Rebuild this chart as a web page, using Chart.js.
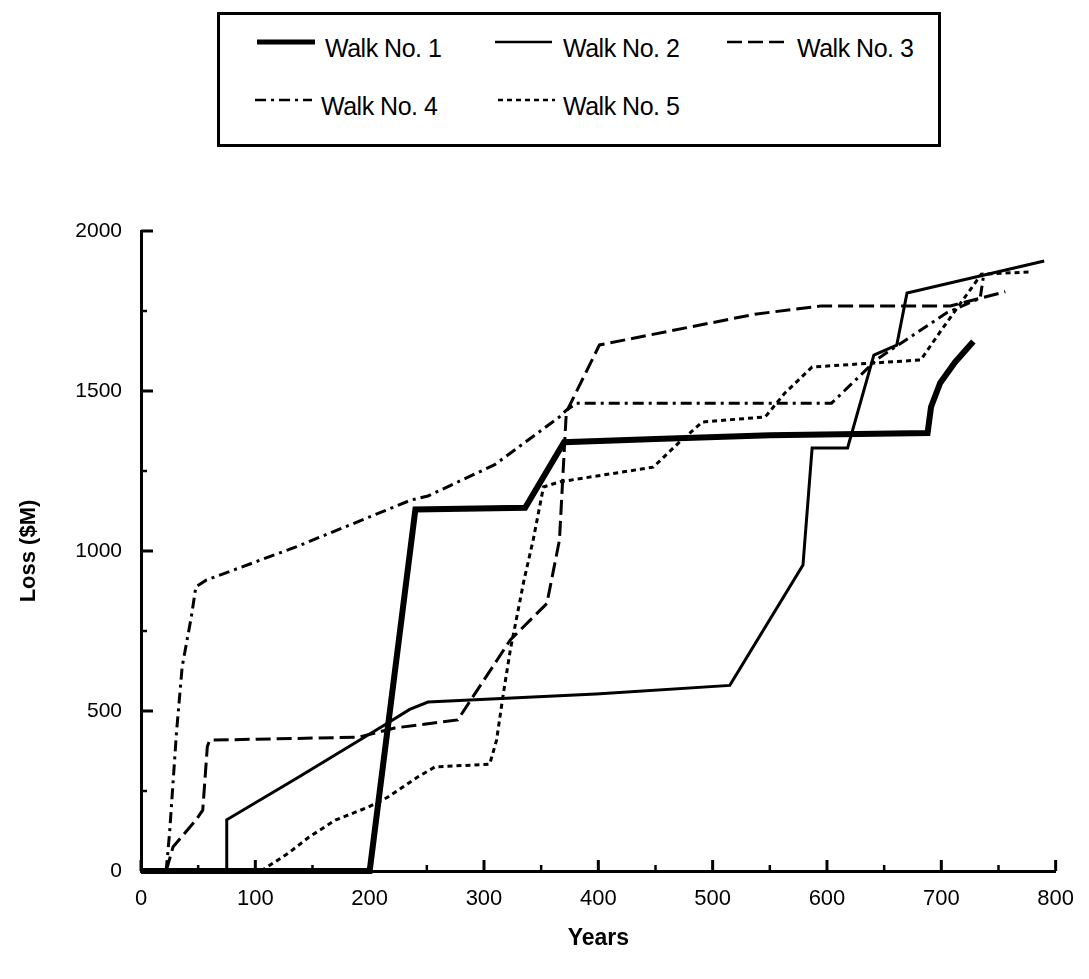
<!DOCTYPE html>
<html>
<head>
<meta charset="utf-8">
<script src="https://cdn.jsdelivr.net/npm/chart.js@4/dist/chart.umd.min.js"></script>
<style>
  html, body { margin: 0; padding: 0; background: #fff; }
  #wrap { position: relative; width: 1089px; height: 979px; }
  #c { position: absolute; left: 0; top: 0; }
  #legend { position: absolute; left: 217px; top: 12px; width: 718px; height: 129px;
            border: 3px solid #000; background: #fff; font-family: "Liberation Sans", Arial, sans-serif; }
  .item { position: absolute; height: 30px; }
  .item svg { position: absolute; left: 0; top: 0; }
  .item span { position: absolute; top: 0; font-size: 25px; line-height: 30px; color: #000; white-space: nowrap; letter-spacing: -0.5px; }
</style>
</head>
<body>
<div id="wrap">
  <canvas id="c" width="1089" height="979"></canvas>
  <div id="legend"></div>
</div>
<script>
// ---- data (years, loss $M) ----
const seriesNames = ["Walk No. 1", "Walk No. 2", "Walk No. 3", "Walk No. 4", "Walk No. 5"];

const walk1Years = [0, 200, 240, 336, 370, 450, 550, 688, 691, 699, 712, 728];
const walk1Loss  = [0, 0, 1130, 1135, 1340, 1350, 1362, 1369, 1450, 1525, 1590, 1655];

const walk2Years = [0, 75, 75, 138, 213, 235, 251, 398, 515, 579, 587, 618, 641, 661, 670, 790];
const walk2Loss  = [0, 0, 160, 294, 456, 505, 528, 553, 580, 956, 1322, 1322, 1612, 1643, 1806, 1906];

const walk3Years = [22, 28, 48, 54, 58, 60, 190, 222, 277, 323, 355, 366, 372, 401, 537, 595, 708, 756];
const walk3Loss  = [0, 75, 159, 190, 388, 409, 418, 447, 472, 722, 836, 1034, 1434, 1644, 1740, 1766, 1766, 1810];

const walk4Years = [22, 25, 31, 36, 44, 48, 57, 135, 236, 251, 309, 366, 372, 381, 604, 644, 665, 705, 734, 737];
const walk4Loss  = [0, 119, 431, 638, 794, 888, 909, 1012, 1159, 1172, 1269, 1419, 1440, 1462, 1462, 1600, 1650, 1745, 1790, 1862];

const walk5Years = [105, 129, 147, 170, 199, 216, 242, 257, 305, 311, 317, 323, 335, 343, 352, 366, 448, 470, 491, 546, 563, 587, 682, 700, 722, 735, 777];
const walk5Loss  = [0, 56, 106, 159, 200, 231, 294, 325, 334, 409, 556, 690, 909, 1034, 1200, 1216, 1262, 1337, 1403, 1419, 1493, 1575, 1597, 1690, 1800, 1865, 1872];

const xTickValues = [0, 100, 200, 300, 400, 500, 600, 700, 800];
const yTickValues = [0, 500, 1000, 1500, 2000];

// ---- styles ----
const styles = [
  { width: 6,   dash: [] },
  { width: 3,   dash: [] },
  { width: 3,   dash: [15, 6] },
  { width: 3,   dash: [11, 5, 3, 5] },
  { width: 3,   dash: [5, 4] }
];

function pts(xs, ys) { return xs.map((x, i) => ({ x: x, y: ys[i] })); }
const allX = [walk1Years, walk2Years, walk3Years, walk4Years, walk5Years];
const allY = [walk1Loss, walk2Loss, walk3Loss, walk4Loss, walk5Loss];

const datasets = seriesNames.map((n, i) => ({
  label: n,
  data: pts(allX[i], allY[i]),
  showLine: true,
  borderColor: '#000',
  backgroundColor: '#000',
  borderWidth: styles[i].width,
  borderDash: styles[i].dash,
  pointRadius: 0,
  tension: 0,
  clip: false,
  borderJoinStyle: 'miter',
  borderCapStyle: 'butt'
}));

// inward tick marks (major + minor) drawn from the scales
const tickPlugin = {
  id: 'inwardTicks',
  afterDraw(chart) {
    const ctx = chart.ctx, xs = chart.scales.x, ys = chart.scales.y, a = chart.chartArea;
    ctx.save();
    ctx.strokeStyle = '#000';
    for (let v = 0; v <= 800; v += 50) {
      const px = xs.getPixelForValue(v);
      const major = v % 100 === 0;
      ctx.lineWidth = major ? 3 : 2.5;
      ctx.beginPath(); ctx.moveTo(px, a.bottom); ctx.lineTo(px, a.bottom - (major ? 11 : 6)); ctx.stroke();
    }
    for (let v = 0; v <= 2000; v += 250) {
      const py = ys.getPixelForValue(v);
      const major = v % 500 === 0;
      ctx.lineWidth = major ? 3 : 2.5;
      ctx.beginPath(); ctx.moveTo(a.left, py); ctx.lineTo(a.left + (major ? 12 : 6), py); ctx.stroke();
    }
    ctx.restore();
  }
};

new Chart(document.getElementById('c'), {
  type: 'scatter',
  data: { datasets },
  plugins: [tickPlugin],
  options: {
    responsive: false,
    animation: false,
    layout: { padding: { left: 12, right: 26, top: 231, bottom: 20 } },
    plugins: { legend: { display: false }, tooltip: { enabled: false } },
    scales: {
      x: {
        type: 'linear', min: 0, max: 800,
        afterFit(s) { s.height = 88; },
        afterBuildTicks(s) { s.ticks = xTickValues.map(v => ({ value: v })); },
        grid: { display: true, drawOnChartArea: false, drawTicks: false },
        border: { display: true, color: '#000', width: 3 },
        ticks: { color: '#000', padding: 15, font: { family: 'Liberation Sans', size: 22 }, maxRotation: 0,
                 callback: v => String(v) },
        title: { display: true, text: 'Years', color: '#000', padding: { top: 4, bottom: 7 },
                 font: { family: 'Liberation Sans', size: 23, weight: 'bold' } }
      },
      y: {
        type: 'linear', min: 0, max: 2000,
        afterFit(s) { s.width = 129; },
        afterBuildTicks(s) { s.ticks = yTickValues.map(v => ({ value: v })); },
        grid: { display: true, drawOnChartArea: false, drawTicks: false },
        border: { display: true, color: '#000', width: 3 },
        ticks: { color: '#000', padding: 19, font: { family: 'Liberation Sans', size: 21 },
                 callback: v => String(v) },
        title: { display: true, text: 'Loss ($M)', color: '#000', padding: { top: 4, bottom: 4 },
                 font: { family: 'Liberation Sans', size: 22, weight: 'bold' } }
      }
    }
  }
});

// ---- legend (HTML text, line samples drawn per series style) ----
const legendPos = [
  { x: 37,  y: 18, len: 58, tx: 105 },
  { x: 275, y: 18, len: 57, tx: 343 },
  { x: 507, y: 18, len: 62, tx: 577 },
  { x: 35,  y: 76, len: 57, tx: 101 },
  { x: 278, y: 76, len: 57, tx: 343 }
];
const leg = document.getElementById('legend');
seriesNames.forEach((n, i) => {
  const p = legendPos[i];
  const d = document.createElement('div');
  d.className = 'item';
  d.style.left = p.x + 'px'; d.style.top = p.y + 'px'; d.style.width = (p.tx - p.x + 150) + 'px';
  const dash = styles[i].dash.length ? ` stroke-dasharray="${styles[i].dash.join(' ')}"` : '';
  d.innerHTML = `<svg width="${p.len}" height="30"><line x1="0" y1="9" x2="${p.len}" y2="9" stroke="#000" stroke-width="${i === 0 ? 5 : 2.5}"${dash}/></svg>` +
                `<span style="left:${p.tx - p.x}px">${n}</span>`;
  leg.appendChild(d);
});
</script>
</body>
</html>
